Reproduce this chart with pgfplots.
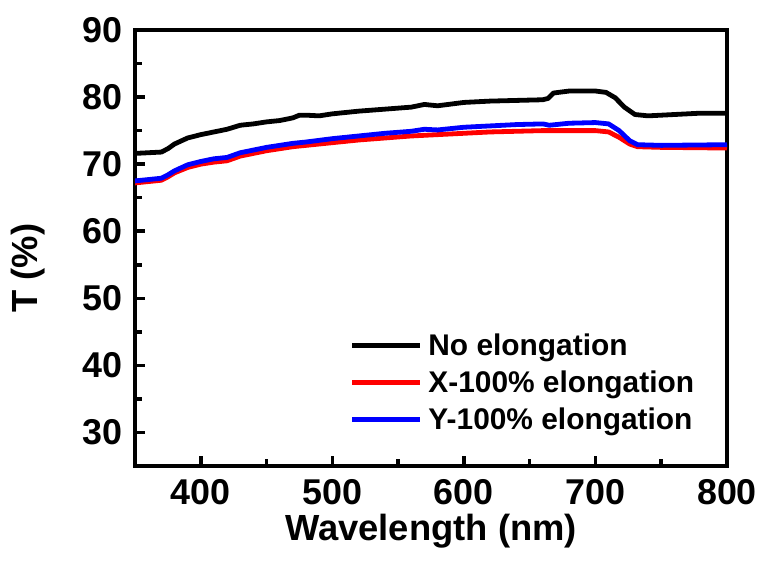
\documentclass[border=0pt]{standalone}
\usepackage{pgfplots}
\pgfplotsset{compat=1.18}
\usepackage{fontspec}
\setmainfont{Liberation Sans}
\begin{document}
\begin{tikzpicture}[x=1bp,y=1bp]
\useasboundingbox (-135,-97) rectangle (628,466);
\begin{axis}[
  at={(0,0)}, anchor=south west,
  scale only axis, width=592bp, height=436bp,
  xmin=350, xmax=800, ymin=25, ymax=90,
  xtick={400,500,...,800}, ytick={30,40,...,90},
  minor x tick num=1, minor y tick num=1,
  tick pos=left, tick align=inside,
  major tick length=10bp, minor tick length=7bp,
  every tick/.style={line width=3.5bp, black},
  axis line style={line width=3.8bp},
  /pgf/number format/assume math mode=true,
  /pgf/number format/1000 sep={},
  ticklabel style={font=\fontsize{36}{38}\selectfont\bfseries, inner sep=0pt},
  xticklabel style={anchor=base, yshift=-39bp},
  yticklabel style={anchor=east, xshift=-12bp},
  label style={font=\fontsize{36.5}{40}\selectfont\bfseries},
  xlabel={Wavelength (nm)}, ylabel={T (\%)},
  xlabel style={at={(axis description cs:0.5,-0.172)}, anchor=base, inner sep=0pt},
  ylabel style={at={(axis description cs:-0.181,0.454)}, anchor=center, inner sep=0pt},
  legend style={at={(0.362,0.307)}, anchor=north west, draw=none, fill=none,
    font=\fontsize{30}{32}\selectfont\bfseries, row sep=9.5bp,
    inner sep=0pt},
  legend cell align=left,
  legend image code/.code={\draw[#1, line width=5bp] (0bp,0bp) -- (68bp,0bp); \path (72bp,0bp);},
  every axis plot/.append style={line width=4.8bp, line join=round},
]
\addplot[black] coordinates {
(350,71.6) (360,71.7) (370,71.8) (375,72.3) (380,73.0) (390,73.9) (400,74.4) (410,74.8) (420,75.2) (430,75.8) (440,76.0) (450,76.3) (460,76.5) (470,76.9) (475,77.3) (480,77.3) (490,77.2) (500,77.5) (520,77.9) (540,78.2) (560,78.5) (570,78.9) (580,78.7) (600,79.2) (620,79.4) (640,79.5) (660,79.6) (664,79.8) (668,80.6) (680,80.9) (700,80.9) (708,80.7) (715,79.9) (722,78.5) (730,77.4) (740,77.2) (760,77.4) (780,77.6) (800,77.6)
};
\addlegendentry{No elongation}
\addplot[red] coordinates {
(350,67.2) (360,67.4) (370,67.6) (375,68.1) (380,68.7) (390,69.5) (400,70.0) (410,70.3) (420,70.5) (430,71.2) (440,71.6) (450,72.0) (460,72.3) (470,72.6) (480,72.8) (500,73.2) (520,73.6) (540,73.9) (560,74.2) (580,74.4) (600,74.6) (620,74.8) (640,74.9) (660,75.0) (680,75.0) (700,75.0) (710,74.8) (718,74.0) (726,73.0) (732,72.6) (750,72.5) (800,72.4)
};
\addlegendentry{X-100\% elongation}
\addplot[blue] coordinates {
(350,67.5) (360,67.7) (370,67.9) (375,68.4) (380,69.0) (390,69.9) (400,70.4) (410,70.8) (420,71.0) (430,71.7) (440,72.1) (450,72.5) (460,72.8) (470,73.1) (480,73.3) (500,73.8) (520,74.2) (540,74.6) (560,74.9) (570,75.2) (580,75.1) (600,75.5) (620,75.7) (640,75.9) (660,76.0) (665,75.8) (680,76.1) (700,76.2) (710,76.0) (718,75.0) (726,73.5) (732,72.9) (750,72.8) (800,72.9)
};
\addlegendentry{Y-100\% elongation}
\end{axis}
\end{tikzpicture}
\end{document}
